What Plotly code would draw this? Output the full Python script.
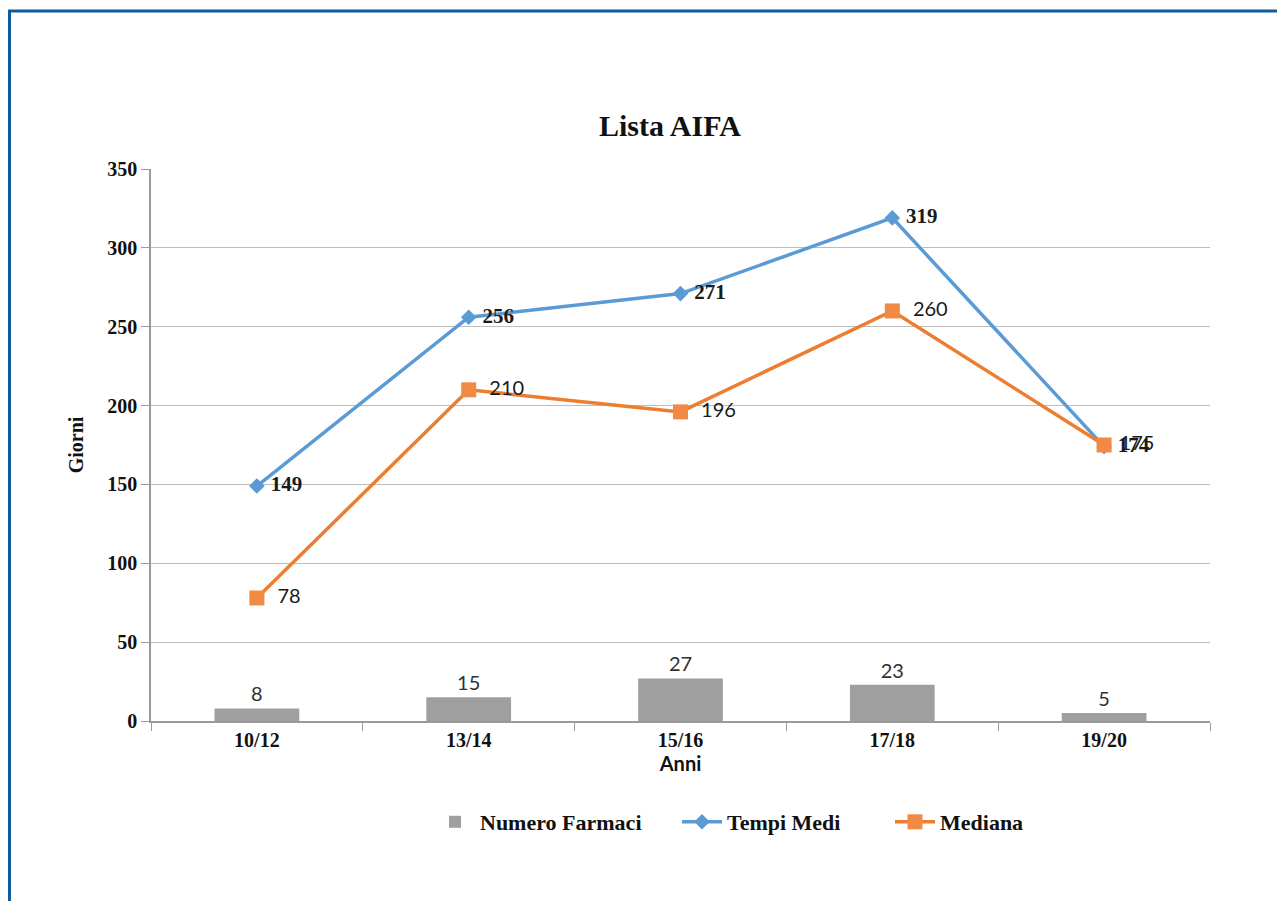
import plotly.graph_objects as go

categories = ["10/12", "13/14", "15/16", "17/18", "19/20"]
numero_farmaci = [8, 15, 27, 23, 5]
tempi_medi = [149, 256, 271, 319, 174]
mediana = [78, 210, 196, 260, 175]

OFF = 8  # page body margin
W, H = 1285 - OFF, 901 - OFF
L, T = 151 - OFF, 169 - OFF
R = W - (1210 - OFF)
B = H - (721 - OFF)
pw, ph = W - L - R, H - T - B

def px_x(x):
    return (x - OFF - L) / pw

def px_y(y):
    return (H - B - (y - OFF)) / ph

serif = "Liberation Serif, Times New Roman, serif"
sans = "Lato, Carlito, Liberation Sans, sans-serif"

med_text = ["  " + str(v) for v in mediana]
med_text[-1] = " " + str(mediana[-1])

fig = go.Figure()
fig.add_trace(go.Bar(
    x=categories, y=numero_farmaci, name="Numero Farmaci",
    marker=dict(color="#9F9F9F", line=dict(width=0)),
    width=0.4,
    text=[str(v) for v in numero_farmaci], textposition="outside",
    textfont=dict(family=sans, size=20, color="#303030"),
    cliponaxis=False, legend="legend",
))
fig.add_trace(go.Scatter(
    x=categories, y=tempi_medi, name="Tempi Medi",
    mode="lines+markers+text",
    line=dict(color="#5B9BD5", width=3.5),
    marker=dict(symbol="diamond", size=12, color="#5B9BD5"),
    text=[" " + str(v) for v in tempi_medi], textposition="middle right",
    textfont=dict(family=serif, size=21, color="#1a1a1a", weight="bold"),
    cliponaxis=False, legend="legend2",
))
fig.add_trace(go.Scatter(
    x=categories, y=mediana, name="Mediana",
    mode="lines+markers+text",
    line=dict(color="#ED7D31", width=3.5),
    marker=dict(symbol="square", size=15, color="#F08A45"),
    text=med_text, textposition="middle right",
    textfont=dict(family=sans, size=20, color="#1a1a1a"),
    cliponaxis=False, legend="legend3",
))

leg_common = dict(orientation="h", xanchor="left", y=px_y(822), yanchor="middle",
                  font=dict(family=serif, size=22, color="#111", weight="bold"),
                  itemwidth=40, bgcolor="rgba(0,0,0,0)")

fig.update_layout(
    width=W, height=H,
    margin=dict(l=L, r=R, t=T, b=B),
    paper_bgcolor="white", plot_bgcolor="white",
    title=dict(text="<b>Lista AIFA</b>", x=(670 - OFF) / W, xanchor="center",
               y=1 - (125 - OFF) / H, yanchor="middle",
               font=dict(family=serif, size=30, color="#111")),
    showlegend=True,
    legend=dict(x=px_x(430), **leg_common),
    legend2=dict(x=px_x(677), **leg_common),
    legend3=dict(x=px_x(890), **leg_common),
)
fig.update_xaxes(
    type="category", range=[-0.5, 4.5],
    showline=True, linecolor="#9A9A9A", linewidth=1.5,
    ticks="outside", tickson="boundaries", ticklen=8, tickcolor="#9A9A9A",
    tickfont=dict(family=serif, size=20, color="#111", weight="bold"),
    title=dict(text="<b>Anni</b>", font=dict(family=sans, size=20, color="#111"), standoff=6),
    showgrid=False,
)
fig.update_yaxes(
    range=[0, 350], dtick=50,
    showline=True, linecolor="#9A9A9A", linewidth=1.5,
    ticks="outside", ticklen=8, tickcolor="#9A9A9A",
    tickfont=dict(family=serif, size=20, color="#111", weight="bold"),
    showgrid=True, gridcolor="#BDBDBD", gridwidth=1,
    zeroline=False,
    title=dict(text="<b>Giorni</b>", font=dict(family=serif, size=20, color="#111"), standoff=18),
)

# outer blue frame
fig.add_shape(type="rect", xref="paper", yref="paper",
              x0=px_x(9.5), x1=px_x(1300),
              y0=px_y(915), y1=px_y(11),
              line=dict(color="#0F5C9C", width=3), fillcolor="rgba(0,0,0,0)", layer="above")

fig.write_html("out.html")
